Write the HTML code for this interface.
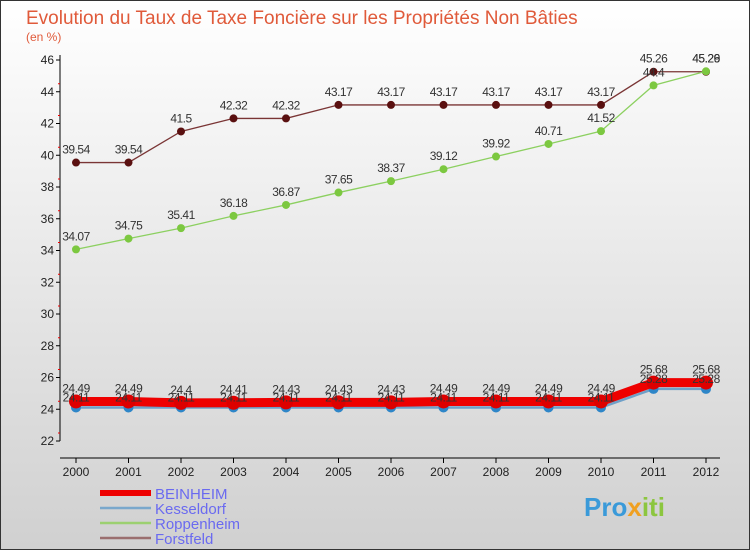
<!DOCTYPE html>
<html><head><meta charset="utf-8"><style>
body{margin:0;width:750px;height:550px;overflow:hidden;font-family:"Liberation Sans",sans-serif}
</style></head><body>
<svg id="c" width="750" height="550" xmlns="http://www.w3.org/2000/svg">
<defs><linearGradient id="bg" x1="0" y1="0" x2="0" y2="1"><stop offset="0" stop-color="#ffffff"/><stop offset="1" stop-color="#d0d0d0"/></linearGradient></defs>
<rect x="0.5" y="0.5" width="749" height="549" fill="url(#bg)" stroke="#333"/>
<text x="26" y="24" font-size="19" fill="#e05a3a">Evolution du Taux de Taxe Foncière sur les Propriétés Non Bâties</text>
<text x="26" y="41" font-size="12" fill="#e05a3a">(en %)</text>
<g id="axes"></g><g id="series"></g><g id="legend"></g>
<text x="584" y="516" font-size="26" font-weight="bold" fill="#3a9ad9">Pro<tspan fill="#f0a020">x</tspan><tspan fill="#8cc63f">iti</tspan></text>
</svg>
<script>
const years=[2000,2001,2002,2003,2004,2005,2006,2007,2008,2009,2010,2011,2012];
const yTicks=[22,24,26,28,30,32,34,36,38,40,42,44,46];
const names=["BEINHEIM","Kesseldorf","Roppenheim","Forstfeld"];
const beinheim=[24.49,24.49,24.4,24.41,24.43,24.43,24.43,24.49,24.49,24.49,24.49,25.68,25.68];
const kesseldorf=[24.11,24.11,24.11,24.11,24.11,24.11,24.11,24.11,24.11,24.11,24.11,25.28,25.28];
const roppenheim=[34.07,34.75,35.41,36.18,36.87,37.65,38.37,39.12,39.92,40.71,41.52,44.4,45.29];
const forstfeld=[39.54,39.54,41.5,42.32,42.32,43.17,43.17,43.17,43.17,43.17,43.17,45.26,45.26];
const NS="http://www.w3.org/2000/svg";
const X=i=>76+i*52.5, Y=v=>441-(v-22)*381/24;
function mk(t,a,p){const e=document.createElementNS(NS,t);for(const k in a)e.setAttribute(k,a[k]);p.appendChild(e);return e;}
const ax=document.getElementById('axes');
let l=mk('line',{x1:60,y1:55,x2:60,y2:441,stroke:'#000'},ax);

l=mk('line',{x1:60,y1:458,x2:720,y2:458,stroke:'#000'},ax);

yTicks.forEach(v=>{const y=Y(v);mk('line',{x1:56,y1:y,x2:60,y2:y,stroke:'#000'},ax);
 if(v<46)mk('line',{x1:58,y1:y-8,x2:60,y2:y-8,stroke:'#e00'},ax);
 const t=mk('text',{x:54,y:y+4,'font-size':12,'text-anchor':'end',fill:'#222'},ax);t.textContent=v;
 });
years.forEach((yr,i)=>{const x=X(i);mk('line',{x1:x,y1:458,x2:x,y2:463,stroke:'#000'},ax);
 const t=mk('text',{x:x,y:476,'font-size':12,'text-anchor':'middle',fill:'#222'},ax);t.textContent=yr;
 });
const sg=document.getElementById('series');
const defs=[
 {d:forstfeld,c:'#7a3535',w:1.3,r:4,f:'#5a1010',n:'forstfeld'},
 {d:roppenheim,c:'#8cd060',w:1.3,r:4,f:'#7cc840',n:'roppenheim'},
 {d:kesseldorf,c:'#6fa0c8',w:2.5,r:5,f:'#2e86c8',n:'kesseldorf'},
 {d:beinheim,c:'#ee0000',w:9,r:7,f:'#dd0000',n:'beinheim'}];
defs.forEach(s=>{const g=mk('g',{},sg);
 
 const p=mk('polyline',{points:s.d.map((v,i)=>X(i)+','+Y(v)).join(' '),fill:'none',stroke:s.c,'stroke-width':s.w},g);
 
 s.d.forEach((v,i)=>{const c=mk('circle',{cx:X(i),cy:Y(v),r:s.r,fill:s.f},g);
  });
});
defs.forEach(s=>{const g=sg;s.d.forEach((v,i)=>{
 const off=s.n==='kesseldorf'?-6:-9;
 const t=mk('text',{x:X(i),y:Y(v)+off,'font-size':12,'text-anchor':'middle',fill:'#333','letter-spacing':'-0.5'},g);
 t.textContent=v;});});
const lg=document.getElementById('legend');
const lc=[['#ee0000',6],['#7aa8cc',2.5],['#9cd070',2.5],['#9a6e6e',2.5]];
names.forEach((n,i)=>{const y=493+i*15;const g=mk('g',{},lg);
 
 mk('line',{x1:100,y1:y,x2:151,y2:y,stroke:lc[i][0],'stroke-width':lc[i][1]},g);
 const t=mk('text',{x:155,y:y+6,'font-size':15,fill:'#6a6af0'},g);t.textContent=n;});
</script>
</body></html>
